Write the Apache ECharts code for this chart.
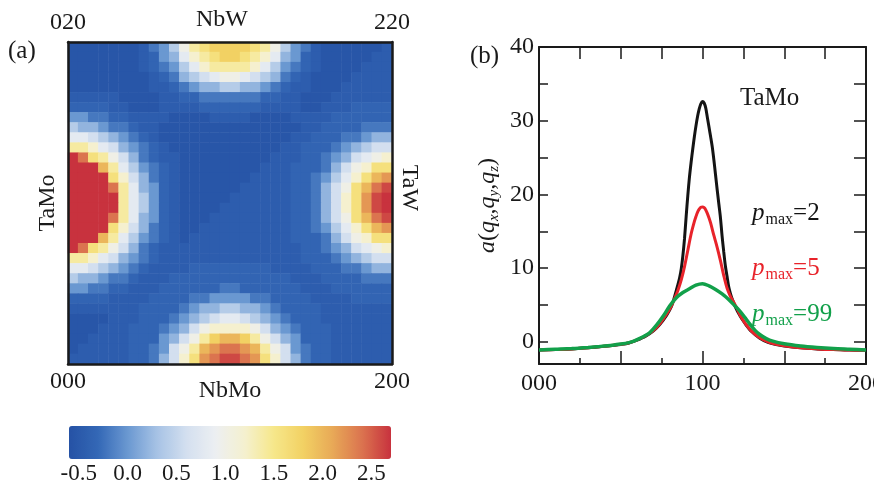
<!DOCTYPE html>
<html>
<head>
<meta charset="utf-8">
<title>TaMo</title>
<script src="https://cdn.jsdelivr.net/npm/echarts@6/dist/echarts.min.js"></script>
<style>
  html, body { margin: 0; padding: 0; background: #fff; }
  #main { width: 874px; height: 486px; }
</style>
</head>
<body>
<div id="main"></div>
<script>
// (a) map, one character per cell, rows from the 020-220 edge down to 000-200
var mapRows = [
  '00000001 3469BCDD DDCB9643 10000001',
  '00000001 2458ABCD DCBA8542 10000011',
  '00000001 23468ABB BBA86432 10000111',
  '00000000 12356789 98765321 00001111',
  '00000000 11234556 65543211 00011111',
  '11111000 01122333 33322110 00111111',
  '22221100 01111222 22211110 01112222',
  '44332211 11000011 11000011 11222222',
  '65543321 10000000 00000001 12222333',
  '88765432 10000000 00000011 22233455',
  'BBA87543 21000000 00000112 22345677',
  'IGCB9753 21100000 00001112 2345789A',
  'IIIEB864 32100000 00011122 23579ACC',
  'IIIICA75 32100000 00111122 3468ACEF',
  'IIIIGB85 42100000 01111122 3579CEGH',
  'IIIIIB86 42100000 11111122 357ACFHI',
  'IIIIIB86 42100001 11111122 357ACFHI',
  'IIIIGB85 42100011 11111122 3579CEGH',
  'IIIICA75 32100111 11111122 3468ACEF',
  'IIIEB864 32101111 11111122 23579ACC',
  'IGCB9753 21111111 11111112 2345789A',
  'BBA87543 21111111 11111112 22345677',
  '88765432 11112222 22221111 22233455',
  '65543321 11222222 22222211 12222333',
  '44332211 12222223 32222221 11222222',
  '22221111 22223344 44332222 11112222',
  '11111112 22234556 65543222 21111111',
  '00001112 22345678 87654322 21111111',
  '00011122 234579AA AA975432 22111111',
  '00111122 24579BDE EDB97542 22111111',
  '01111122 3479BEFG GFEB9743 22111111',
  '11111122 357ACFGH HGFCA753 22111111'
];
// value behind each character
var mapLevels = {
  '0': -0.55, '1': -0.45, '2': -0.35, '3': -0.2, '4': 0, '5': 0.2, '6': 0.4,
  '7': 0.6, '8': 0.8, '9': 1.0, 'A': 1.2, 'B': 1.4, 'C': 1.6, 'D': 1.8,
  'E': 2.0, 'F': 2.2, 'G': 2.4, 'H': 2.6, 'I': 2.7
};
var cornerBottom = ['000', '200'];
var cornerTop = ['020', '220'];
var barTicks = [-0.5, 0, 0.5, 1, 1.5, 2, 2.5];
var barColors = ['#2552a5', '#3468b6', '#6a98d1', '#a6c2e5', '#d3dfef', '#eceff2',
  '#f5f0cf', '#f6e78a', '#f2d163', '#e8a957', '#db744f', '#c8323e'];

// (b) curves
var qBlack = [0, 10, 20, 30, 40, 45, 50, 55, 60, 65, 70, 74, 78, 81, 83,
  84, 85, 86, 87, 88, 89, 90, 91, 92, 93, 94, 95, 96, 97, 98, 99, 100,
  101, 102, 103, 104, 105, 106, 107, 108, 109, 110, 111, 112, 113, 114, 115, 116, 117, 118,
  120, 123, 126, 130, 135, 140, 145, 150, 160, 170, 180, 190, 200];
var aBlack = [-1.1, -1.05, -0.95, -0.8, -0.6, -0.48, -0.35, -0.15, 0.25, 0.75, 1.5, 2.4, 3.6, 4.8, 6.2,
  7.0, 7.8, 8.7, 9.9, 11.7, 14.0, 17.0, 19.8, 22.3, 24.3, 26.1, 27.8, 29.3, 30.6, 31.6, 32.3, 32.6,
  32.4, 31.7, 30.4, 29.1, 27.8, 26.4, 24.6, 22.6, 20.6, 18.7, 16.8, 14.3, 12.2, 10.3, 8.9, 7.5, 6.6, 5.9,
  4.8, 3.5, 2.5, 1.4, 0.5, -0.05, -0.35, -0.55, -0.8, -0.95, -1.05, -1.1, -1.15];
var qRed = [0, 10, 20, 30, 40, 45, 50, 55, 60, 65, 70, 74, 78, 81, 83,
  85, 87, 89, 91, 93, 95, 96, 97, 98, 99, 100, 101, 102, 103, 104, 105,
  107, 109, 111, 113, 115, 117, 119, 121, 123, 126, 130, 135, 140, 145, 150,
  160, 170, 180, 190, 200];
var aRed = [-1.1, -1.05, -0.95, -0.8, -0.6, -0.47, -0.33, -0.12, 0.28, 0.8, 1.55, 2.5, 3.75, 4.9, 5.9,
  7.0, 8.4, 10.2, 12.4, 14.6, 16.3, 17.0, 17.6, 18.0, 18.25, 18.3, 18.2, 17.9, 17.4, 16.8, 16.1,
  14.4, 12.8, 11.0, 9.0, 7.3, 6.2, 5.4, 4.6, 3.6, 2.55, 1.45, 0.55, 0.0, -0.32, -0.53,
  -0.8, -0.95, -1.05, -1.1, -1.15];
var qGreen = [0, 10, 20, 30, 37, 45, 50, 55, 58, 62, 65, 68, 72, 76, 80, 84, 88, 92, 96, 100,
  104, 108, 112, 116, 120, 123, 126, 129, 132, 135, 139, 143, 150, 160, 170, 180, 190, 200];
var aGreen = [-1.1, -1.0, -0.9, -0.75, -0.62, -0.45, -0.3, -0.1, 0.1, 0.5, 0.85, 1.3, 2.3, 3.5, 4.9, 6.0, 6.7, 7.2, 7.7, 7.9,
  7.6, 7.1, 6.5, 5.75, 4.85, 4.15, 3.3, 2.4, 1.6, 1.0, 0.45, 0.1, -0.25, -0.55, -0.75, -0.9, -1.0, -1.1];
var qTicks = [0, 100, 200];
var qTickNames = ['000', '100', '200'];
var qMajor = [0, 50, 100, 150, 200];
var qMinor = [25, 75, 125, 175];
var qTop = [25, 50, 75, 100, 125, 150, 175];
var aTicks = [0, 10, 20, 30, 40];
var aMarks = [0, 5, 10, 15, 20, 25, 30, 35, 40];
var pmaxNames = ['2', '5', '99'];

var FONT = 'Liberation Serif';
var INK = '#1a1a1a';
var lineColors = ['#141414', '#e8232a', '#12a04a'];

function pairs(xs, ys) {
  return xs.map(function (x, k) { return [x, ys[k]]; });
}

var heatData = [];
var mapCols = [];
var mapRowIdx = [];
mapRows.forEach(function (row, j) {
  var cells = row.replace(/ /g, '');
  mapRowIdx.push(j);
  for (var i = 0; i < cells.length; i++) {
    if (j === 0) mapCols.push(i);
    heatData.push([i, j, mapLevels[cells.charAt(i)]]);
  }
});

var frameLine = { show: true, onZero: false, lineStyle: { color: INK, width: 2.5 } };
var plotLine = { show: true, onZero: false, lineStyle: { color: INK, width: 2 } };
var tickStyle = { color: INK, width: 1.5 };
var labelFont = { fontFamily: FONT, fontSize: 24, color: INK };
var nameFont = { fontFamily: FONT, fontSize: 24, color: INK };

function pLabel(k, y) {
  var c = lineColors[k];
  return {
    type: 'text', x: 752, y: y,
    style: {
      text: '{p|p}{m|max}{n|=' + pmaxNames[k] + '}',
      verticalAlign: 'middle',
      rich: {
        p: { fontFamily: FONT, fontSize: 25, fontStyle: 'italic', fill: c },
        m: { fontFamily: FONT, fontSize: 16, fill: c, padding: [13, 0, 0, 1] },
        n: { fontFamily: FONT, fontSize: 25, fill: c }
      }
    }
  };
}

var chart = echarts.init(document.getElementById('main'));
var option = {
  animation: false,
  backgroundColor: '#fff',
  textStyle: { fontFamily: FONT, color: INK },
  grid: [
    { left: 68, top: 42, width: 324, height: 322, outerBoundsMode: 'none', containLabel: false },
    { left: 539, top: 47, width: 327, height: 317, outerBoundsMode: 'none', containLabel: false },
    { left: 69, top: 426, width: 322, height: 33, outerBoundsMode: 'none', containLabel: false }
  ],
  visualMap: {
    type: 'continuous', seriesIndex: 0, min: -0.6, max: 2.7,
    orient: 'horizontal', left: 69, top: 426, itemWidth: 33, itemHeight: 322,
    padding: 0, calculable: false, hoverLink: false, text: null,
    inRange: { color: barColors }
  },
  xAxis: [
    { gridIndex: 0, type: 'category', data: mapCols, show: false },
    {
      gridIndex: 0, type: 'value', position: 'bottom', min: 0, max: 1, z: 5,
      axisLine: frameLine, axisTick: { show: false }, splitLine: { show: false },
      axisLabel: Object.assign({ customValues: [0, 1], margin: 6,
        formatter: function (v) { return cornerBottom[v]; } }, labelFont),
      name: 'NbMo', nameLocation: 'middle', nameGap: 15, nameMoveOverlap: false, nameTextStyle: nameFont
    },
    {
      gridIndex: 0, type: 'value', position: 'top', min: 0, max: 1, z: 5,
      axisLine: frameLine, axisTick: { show: false }, splitLine: { show: false },
      axisLabel: Object.assign({ customValues: [0, 1], margin: 7,
        formatter: function (v) { return cornerTop[v]; } }, labelFont),
      name: 'NbW', nameLocation: 'middle', nameGap: 10, nameMoveOverlap: false,
      nameTextStyle: Object.assign({ padding: [0, 16, 0, 0] }, nameFont)
    },
    {
      gridIndex: 1, type: 'value', position: 'bottom', min: 0, max: 200, z: 5,
      axisLine: plotLine, splitLine: { show: false },
      axisTick: { inside: true, length: 13, customValues: qMajor, lineStyle: tickStyle },
      axisLabel: Object.assign({ customValues: qTicks, margin: 8,
        formatter: function (v) { return qTickNames[qTicks.indexOf(v)]; } }, labelFont)
    },
    {
      gridIndex: 1, type: 'value', position: 'bottom', min: 0, max: 200,
      axisLine: { show: false, onZero: false }, splitLine: { show: false },
      axisTick: { inside: true, length: 6, customValues: qMinor, lineStyle: tickStyle },
      axisLabel: { show: false }
    },
    {
      gridIndex: 1, type: 'value', position: 'top', min: 0, max: 200, z: 5,
      axisLine: plotLine, splitLine: { show: false },
      axisTick: { inside: true, length: 12, customValues: qTop, lineStyle: tickStyle },
      axisLabel: { show: false }
    },
    {
      gridIndex: 2, type: 'value', position: 'bottom', min: -0.6, max: 2.7,
      axisLine: { show: false, onZero: false }, axisTick: { show: false }, splitLine: { show: false },
      axisLabel: Object.assign({ customValues: barTicks, margin: 3,
        formatter: function (v) { return v.toFixed(1); } }, labelFont, { fontSize: 23 })
    }
  ],
  yAxis: [
    { gridIndex: 0, type: 'category', data: mapRowIdx, inverse: true, show: false },
    {
      gridIndex: 0, type: 'value', position: 'left', min: 0, max: 1, z: 5,
      axisLine: frameLine, axisTick: { show: false }, axisLabel: { show: false }, splitLine: { show: false },
      name: 'TaMo', nameLocation: 'middle', nameRotate: 90, nameGap: 8, nameMoveOverlap: false,
      nameTextStyle: nameFont
    },
    {
      gridIndex: 0, type: 'value', position: 'right', min: 0, max: 1, z: 5,
      axisLine: frameLine, axisTick: { show: false }, axisLabel: { show: false }, splitLine: { show: false },
      name: 'TaW', nameLocation: 'middle', nameRotate: -90, nameGap: 5, nameMoveOverlap: false,
      nameTextStyle: Object.assign({ padding: [0, 30, 0, 0] }, nameFont)
    },
    {
      gridIndex: 1, type: 'value', position: 'left', min: -3, max: 40, z: 5,
      axisLine: plotLine, splitLine: { show: false },
      axisTick: { inside: true, length: 9, customValues: aMarks, lineStyle: tickStyle },
      axisLabel: Object.assign({ customValues: aTicks, margin: 5 }, labelFont),
      name: '{i|a}{n|(}{i|q}{s|x}{n|,}{i|q}{s|y}{n|,}{i|q}{s|z}{n|)}',
      nameLocation: 'middle', nameRotate: 90, nameGap: 37, nameMoveOverlap: false,
      nameTextStyle: {
        fontFamily: FONT, fontSize: 24, color: INK,
        rich: {
          i: { fontFamily: FONT, fontSize: 24, fontStyle: 'italic', color: INK },
          n: { fontFamily: FONT, fontSize: 24, color: INK },
          s: { fontFamily: FONT, fontSize: 15, fontStyle: 'italic', color: INK, padding: [13, 0, 0, 0] }
        }
      }
    },
    {
      gridIndex: 1, type: 'value', position: 'right', min: -3, max: 40, z: 5,
      axisLine: plotLine, splitLine: { show: false },
      axisTick: { inside: true, length: 12, customValues: aMarks, lineStyle: tickStyle },
      axisLabel: { show: false }
    },
    { gridIndex: 2, type: 'value', min: 0, max: 1, show: false }
  ],
  series: [
    {
      type: 'heatmap', xAxisIndex: 0, yAxisIndex: 0, data: heatData,
      itemStyle: { borderWidth: 0 }, emphasis: { disabled: true }, progressive: 0
    },
    {
      type: 'line', xAxisIndex: 3, yAxisIndex: 3, data: pairs(qBlack, aBlack),
      symbol: 'none', smooth: 0.3, lineStyle: { color: lineColors[0], width: 3 }, z: 3
    },
    {
      type: 'line', xAxisIndex: 3, yAxisIndex: 3, data: pairs(qRed, aRed),
      symbol: 'none', smooth: 0.3, lineStyle: { color: lineColors[1], width: 3 }, z: 4
    },
    {
      type: 'line', xAxisIndex: 3, yAxisIndex: 3, data: pairs(qGreen, aGreen),
      symbol: 'none', smooth: 0.3, lineStyle: { color: lineColors[2], width: 3.5 }, z: 5
    }
  ],
  graphic: [
    { type: 'text', x: 8, y: 51, style: { text: '(a)', font: '25px "Liberation Serif"', fill: INK, verticalAlign: 'middle' } },
    { type: 'text', x: 470, y: 56, style: { text: '(b)', font: '25px "Liberation Serif"', fill: INK, verticalAlign: 'middle' } },
    { type: 'text', x: 740, y: 98, style: { text: 'TaMo', font: '25px "Liberation Serif"', fill: INK, verticalAlign: 'middle' } },
    pLabel(0, 213),
    pLabel(1, 268),
    pLabel(2, 314)
  ]
};
chart.setOption(option);
</script>
</body>
</html>
